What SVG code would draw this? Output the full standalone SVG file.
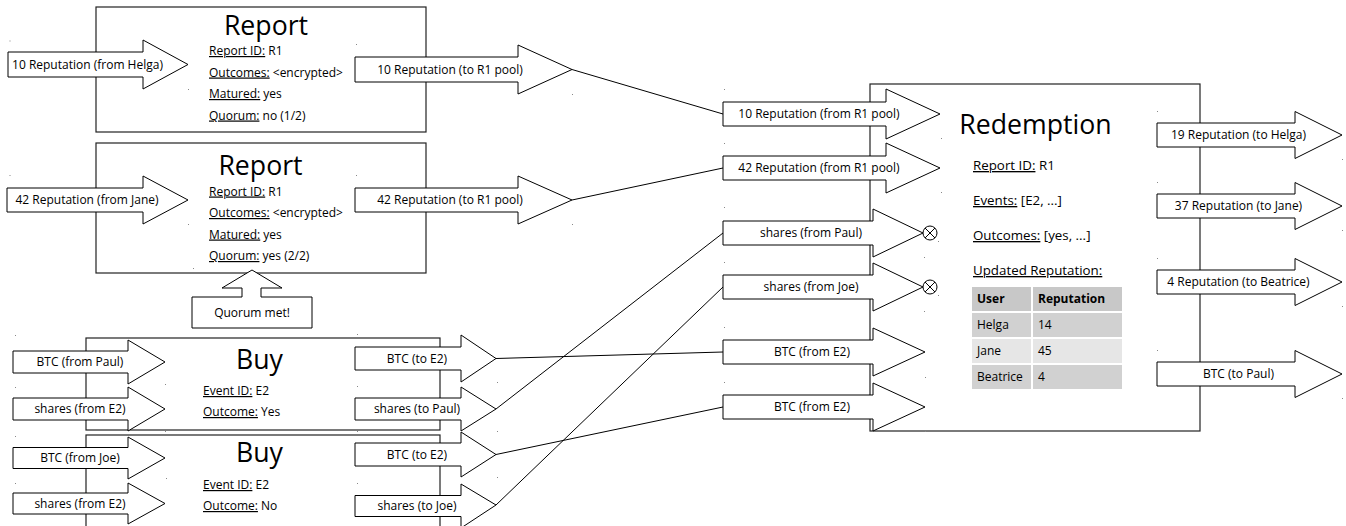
<svg xmlns="http://www.w3.org/2000/svg" width="1346" height="526" viewBox="0 0 1346 526">
<style>
  text { font-family: "Open Sans", "Noto Sans", "DejaVu Sans", sans-serif; fill: #000; }
  .box { fill: #fff; stroke: #222; stroke-width: 1.2; }
  .arr { fill: #fff; stroke: #000; stroke-width: 1; stroke-linejoin: miter; }
  .lbl { font-size: 12px; text-anchor: middle; }
  .fld { font-size: 12px; }
  .fld2 { font-size: 13.33px; }
  .title { font-size: 26.67px; text-anchor: middle; }
  .u { text-decoration: underline; }
  .con { fill: none; stroke: #000; stroke-width: 1; }
  .dot { fill: #888; }
  .th { font-size: 12px; font-weight: bold; }
  .td { font-size: 12px; }
  .x { fill: #fff; stroke: #000; stroke-width: 1; }
</style>

<!-- Report 1 -->
<g id="report1">
  <rect class="box" x="96" y="7" width="330" height="125"/>
  <text class="title" x="266" y="35">Report</text>
  <text class="fld" x="209" y="55"><tspan class="u">Report ID:</tspan> R1</text>
  <text class="fld" x="209" y="76.5"><tspan class="u">Outcomes:</tspan> &lt;encrypted&gt;</text>
  <text class="fld" x="209" y="98"><tspan class="u">Matured:</tspan> yes</text>
  <text class="fld" x="209" y="119.5"><tspan class="u">Quorum:</tspan> no (1/2)</text>
</g>
<g id="in-helga">
  <polygon class="arr" points="8,52 143,52 143,40 188,64.5 143,89 143,77 8,77"/>
  <text class="lbl" x="87.5" y="69">10 Reputation (from Helga)</text>
</g>
<g id="out-r1-10">
  <polygon class="arr" points="355,57 518,57 518,45 572,69.5 518,94 518,82 355,82"/>
  <text class="lbl" x="450" y="74">10 Reputation (to R1 pool)</text>
</g>

<!-- Report 2 -->
<g id="report2">
  <rect class="box" x="96" y="143" width="330" height="130"/>
  <text class="title" x="260.5" y="175">Report</text>
  <text class="fld" x="209" y="195.5"><tspan class="u">Report ID:</tspan> R1</text>
  <text class="fld" x="209" y="217"><tspan class="u">Outcomes:</tspan> &lt;encrypted&gt;</text>
  <text class="fld" x="209" y="238.5"><tspan class="u">Matured:</tspan> yes</text>
  <text class="fld" x="209" y="260"><tspan class="u">Quorum:</tspan> yes (2/2)</text>
</g>
<g id="in-jane">
  <polygon class="arr" points="7,188 143,188 143,176 188,200 143,224 143,212 7,212"/>
  <text class="lbl" x="87" y="204.3">42 Reputation (from Jane)</text>
</g>
<g id="out-r1-42">
  <polygon class="arr" points="355,188 518,188 518,176 572,200 518,224 518,212 355,212"/>
  <text class="lbl" x="450" y="204.3">42 Reputation (to R1 pool)</text>
</g>
<g id="quorum-met">
  <polygon class="arr" points="192,297 242,297 242,288 222,288 252,270 282,288 261,288 261,297 312,297 312,328 192,328"/>
  <text class="lbl" x="252" y="317">Quorum met!</text>
</g>

<!-- Buy 1 -->
<g id="buy1">
  <rect class="box" x="86" y="338" width="354" height="92"/>
  <text class="title" x="259.5" y="369">Buy</text>
  <text class="fld" x="203" y="395"><tspan class="u">Event ID:</tspan> E2</text>
  <text class="fld" x="203" y="416"><tspan class="u">Outcome:</tspan> Yes</text>
</g>
<g id="buy1-in-btc">
  <polygon class="arr" points="13,351 128,351 128,340 165,362 128,384 128,373 13,373"/>
  <text class="lbl" x="80" y="366.3">BTC (from Paul)</text>
</g>
<g id="buy1-in-shares">
  <polygon class="arr" points="13,398 128,398 128,387 165,409 128,431 128,420 13,420"/>
  <text class="lbl" x="80" y="413.3">shares (from E2)</text>
</g>
<g id="buy1-out-btc">
  <polygon class="arr" points="355,347 461,347 461,335 496,358.5 461,382 461,370 355,370"/>
  <text class="lbl" x="417" y="362.8">BTC (to E2)</text>
</g>
<g id="buy1-out-shares">
  <polygon class="arr" points="355,398 461,398 461,387 496,409 461,431 461,420 355,420"/>
  <text class="lbl" x="417" y="413.3">shares (to Paul)</text>
</g>

<!-- Buy 2 -->
<g id="buy2">
  <rect class="box" x="86" y="435" width="354" height="110"/>
  <text class="title" x="259.5" y="462">Buy</text>
  <text class="fld" x="203" y="489"><tspan class="u">Event ID:</tspan> E2</text>
  <text class="fld" x="203" y="510"><tspan class="u">Outcome:</tspan> No</text>
</g>
<g id="buy2-in-btc">
  <polygon class="arr" points="13,447.5 128,447.5 128,437 165,458 128,479 128,468.5 13,468.5"/>
  <text class="lbl" x="80" y="462.3">BTC (from Joe)</text>
</g>
<g id="buy2-in-shares">
  <polygon class="arr" points="13,493 128,493 128,483 165,503.5 128,524 128,514 13,514"/>
  <text class="lbl" x="80" y="507.8">shares (from E2)</text>
</g>
<g id="buy2-out-btc">
  <polygon class="arr" points="355,443 461,443 461,432 496,454.5 461,477 461,466 355,466"/>
  <text class="lbl" x="417" y="458.8">BTC (to E2)</text>
</g>
<g id="buy2-out-shares">
  <polygon class="arr" points="355,495.5 461,495.5 461,484 496,505 461,528 461,516.5 355,516.5"/>
  <text class="lbl" x="417" y="510.3">shares (to Joe)</text>
</g>

<!-- Redemption -->
<g id="redemption">
  <rect class="box" x="870" y="84" width="330" height="347"/>
  <text class="title" x="1035.5" y="134">Redemption</text>
  <text class="fld2" x="973" y="170"><tspan class="u">Report ID:</tspan> R1</text>
  <text class="fld2" x="973" y="205"><tspan class="u">Events:</tspan> [E2, ...]</text>
  <text class="fld2" x="973" y="240"><tspan class="u">Outcomes:</tspan> [yes, ...]</text>
  <text class="fld2 u" x="973" y="275">Updated Reputation:</text>
  <g id="rep-table">
    <rect x="972" y="287" width="59" height="24" fill="#c8c8c8"/>
    <rect x="1033" y="287" width="89" height="24" fill="#c8c8c8"/>
    <rect x="972" y="313" width="59" height="24" fill="#d1d1d1"/>
    <rect x="1033" y="313" width="89" height="24" fill="#d1d1d1"/>
    <rect x="972" y="339" width="59" height="24" fill="#e6e6e6"/>
    <rect x="1033" y="339" width="89" height="24" fill="#e6e6e6"/>
    <rect x="972" y="365" width="59" height="24" fill="#d1d1d1"/>
    <rect x="1033" y="365" width="89" height="24" fill="#d1d1d1"/>
    <text class="th" x="977" y="303">User</text>
    <text class="th" x="1038" y="303">Reputation</text>
    <text class="td" x="977" y="329">Helga</text>
    <text class="td" x="1038" y="329">14</text>
    <text class="td" x="977" y="355">Jane</text>
    <text class="td" x="1038" y="355">45</text>
    <text class="td" x="977" y="381">Beatrice</text>
    <text class="td" x="1038" y="381">4</text>
  </g>
</g>
<g id="red-in-10">
  <polygon class="arr" points="723,102 886,102 886,89 940,114 886,139 886,126 723,126"/>
  <text class="lbl" x="819" y="118.3">10 Reputation (from R1 pool)</text>
</g>
<g id="red-in-42">
  <polygon class="arr" points="723,156 886,156 886,143 940,168 886,193 886,180 723,180"/>
  <text class="lbl" x="819" y="172.3">42 Reputation (from R1 pool)</text>
</g>
<g id="red-in-shares-paul">
  <polygon class="arr" points="723,221 873,221 873,209 923,233 873,257 873,245 723,245"/>
  <text class="lbl" x="811" y="237.3">shares (from Paul)</text>
  <circle class="x" cx="930" cy="233" r="7"/>
  <path class="con" d="M925,228 L935,238 M935,228 L925,238"/>
</g>
<g id="red-in-shares-joe">
  <polygon class="arr" points="723,275 873,275 873,263 923,287 873,311 873,299 723,299"/>
  <text class="lbl" x="811" y="291.3">shares (from Joe)</text>
  <circle class="x" cx="930" cy="287" r="7"/>
  <path class="con" d="M925,282 L935,292 M935,282 L925,292"/>
</g>
<g id="red-in-btc1">
  <polygon class="arr" points="723,340 873,340 873,328 925,352 873,376 873,364 723,364"/>
  <text class="lbl" x="812" y="356.3">BTC (from E2)</text>
</g>
<g id="red-in-btc2">
  <polygon class="arr" points="723,395 873,395 873,383 925,407 873,431 873,419 723,419"/>
  <text class="lbl" x="812" y="411.3">BTC (from E2)</text>
</g>
<g id="red-out-helga">
  <polygon class="arr" points="1157,123 1295,123 1295,111.5 1342,135 1295,158.5 1295,147 1157,147"/>
  <text class="lbl" x="1238.5" y="139.3">19 Reputation (to Helga)</text>
</g>
<g id="red-out-jane">
  <polygon class="arr" points="1157,194 1295,194 1295,182.5 1342,206 1295,229.5 1295,218 1157,218"/>
  <text class="lbl" x="1238.5" y="210.3">37 Reputation (to Jane)</text>
</g>
<g id="red-out-beatrice">
  <polygon class="arr" points="1157,270 1295,270 1295,258.5 1342,282 1295,305.5 1295,294 1157,294"/>
  <text class="lbl" x="1238.5" y="286.3">4 Reputation (to Beatrice)</text>
</g>
<g id="red-out-paul">
  <polygon class="arr" points="1157,362 1295,362 1295,350.5 1342,374 1295,397.5 1295,386 1157,386"/>
  <text class="lbl" x="1238.5" y="378.3">BTC (to Paul)</text>
</g>

<!-- Connectors -->
<g id="connectors">
  <line class="con" x1="572" y1="69.5" x2="723" y2="114"/>
  <line class="con" x1="572" y1="200" x2="723" y2="168"/>
  <line class="con" x1="496" y1="358.5" x2="723" y2="352"/>
  <line class="con" x1="496" y1="409" x2="723" y2="233"/>
  <line class="con" x1="496" y1="454.5" x2="723" y2="407"/>
  <line class="con" x1="496" y1="505" x2="723" y2="287"/>
</g>

<!-- faint connection-point dots -->
<g id="dots" class="dot">
  <rect x="9.5" y="40.5" width="1" height="1"/><rect x="188" y="89" width="1" height="1"/>
  <rect x="356" y="44" width="1" height="1"/><rect x="572" y="94" width="1" height="1"/>
  <rect x="9.5" y="175" width="1" height="1"/><rect x="188" y="224" width="1" height="1"/>
  <rect x="356" y="175" width="1" height="1"/><rect x="572" y="224" width="1" height="1"/>
  <rect x="193" y="268" width="1" height="1"/>
  <rect x="15" y="335" width="1" height="1"/><rect x="165" y="384" width="1" height="1"/>
  <rect x="15" y="387" width="1" height="1"/><rect x="165" y="431" width="1" height="1"/>
  <rect x="15" y="436" width="1" height="1"/><rect x="166" y="478" width="1" height="1"/>
  <rect x="15" y="483" width="1" height="1"/>
  <rect x="357" y="334" width="1" height="1"/><rect x="497" y="382" width="1" height="1"/>
  <rect x="357" y="386" width="1" height="1"/><rect x="497" y="431" width="1" height="1"/>
  <rect x="357" y="431" width="1" height="1"/><rect x="497" y="477" width="1" height="1"/>
  <rect x="357" y="483" width="1" height="1"/>
  <rect x="724" y="89" width="1" height="1"/><rect x="941" y="138" width="1" height="1"/>
  <rect x="724" y="143" width="1" height="1"/><rect x="941" y="192" width="1" height="1"/>
  <rect x="724" y="207" width="1" height="1"/><rect x="924" y="257" width="1" height="1"/>
  <rect x="724" y="262" width="1" height="1"/><rect x="924" y="311" width="1" height="1"/>
  <rect x="724" y="327" width="1" height="1"/><rect x="925" y="377" width="1" height="1"/>
  <rect x="724" y="382" width="1" height="1"/><rect x="925" y="431" width="1" height="1"/>
  <rect x="938" y="241" width="1" height="1"/><rect x="938" y="295" width="1" height="1"/>
  <rect x="1157" y="111" width="1" height="1"/><rect x="1342" y="159" width="1" height="1"/>
  <rect x="1157" y="182" width="1" height="1"/><rect x="1342" y="230" width="1" height="1"/>
  <rect x="1157" y="258" width="1" height="1"/><rect x="1342" y="306" width="1" height="1"/>
  <rect x="1157" y="350" width="1" height="1"/><rect x="1342" y="398" width="1" height="1"/>
</g>
</svg>
